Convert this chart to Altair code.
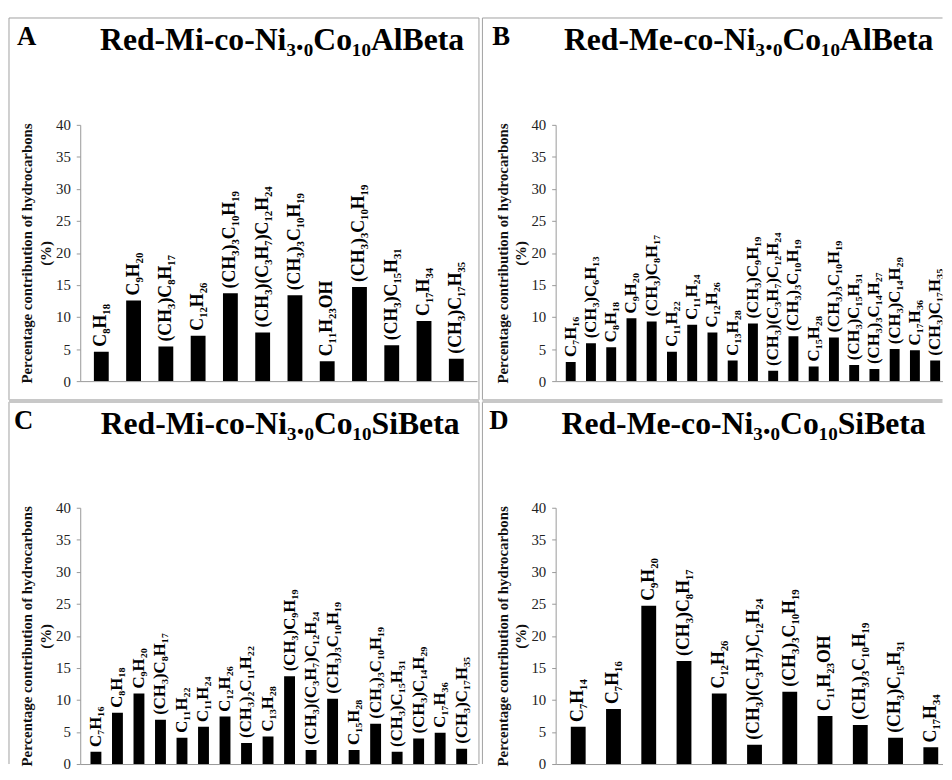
import altair as alt
import pandas as pd

# ---------------- data ----------------
labels_a = ["C₈H₁₈", "C₉H₂₀", "(CH₃)C₈H₁₇", "C₁₂H₂₆", "(CH₃)₃C₁₀H₁₉", "(CH₃)(C₃H₇)C₁₂H₂₄",
            "(CH₃)₃C₁₀H₁₉", "C₁₁H₂₃OH", "(CH₃)₃C₁₀H₁₉", "(CH₃)C₁₅H₃₁", "C₁₇H₃₄", "(CH₃)C₁₇H₃₅"]
values_a = [4.6, 12.6, 5.4, 7.1, 13.7, 7.6, 13.4, 3.1, 14.7, 5.6, 9.4, 3.5]

labels_b = ["C₇H₁₆", "(CH₃)C₆H₁₃", "C₈H₁₈", "C₉H₂₀", "(CH₃)C₈H₁₇", "C₁₁H₂₂", "C₁₁H₂₄", "C₁₂H₂₆",
            "C₁₃H₂₈", "(CH₃)C₉H₁₉", "(CH₃)(C₃H₇)C₁₂H₂₄", "(CH₃)₃C₁₀H₁₉", "C₁₅H₂₈", "(CH₃)₃C₁₀H₁₉",
            "(CH₃)C₁₅H₃₁", "(CH₃)₃C₁₄H₂₇", "(CH₃)C₁₄H₂₉", "C₁₇H₃₆", "(CH₃)C₁₇H₃₅"]
values_b = [3.0, 5.9, 5.3, 9.8, 9.3, 4.6, 8.8, 7.6, 3.2, 9.0, 1.6, 7.0, 2.3, 6.8, 2.5, 1.9, 5.0, 4.8, 3.2]

labels_c = ["C₇H₁₆", "C₈H₁₈", "C₉H₂₀", "(CH₃)C₈H₁₇", "C₁₁H₂₂", "C₁₁H₂₄", "C₁₂H₂₆", "(CH₃)₂C₁₁H₂₂",
            "C₁₃H₂₈", "(CH₃)C₉H₁₉", "(CH₃)(C₃H₇)C₁₂H₂₄", "(CH₃)₃C₁₀H₁₉", "C₁₅H₂₈", "(CH₃)₃C₁₀H₁₉",
            "(CH₃)C₁₅H₃₁", "(CH₃)C₁₄H₂₉", "C₁₇H₃₆", "(CH₃)C₁₇H₃₅"]
values_c = [1.9, 8.0, 11.0, 6.9, 4.1, 5.8, 7.4, 3.3, 4.3, 13.7, 2.2, 10.2, 2.2, 6.3, 1.9, 4.0, 4.9, 2.4]

labels_d = ["C₇H₁₄", "C₇H₁₆", "C₉H₂₀", "(CH₃)C₈H₁₇", "C₁₂H₂₆", "(CH₃)(C₃H₇)C₁₂H₂₄",
            "(CH₃)₃C₁₀H₁₉", "C₁₁H₂₃OH", "(CH₃)₃C₁₀H₁₉", "(CH₃)C₁₅H₃₁", "C₁₇H₃₄"]
values_d = [5.8, 8.6, 24.7, 16.1, 11.0, 3.0, 11.3, 7.5, 6.1, 4.1, 2.6]

titles = ["Red-Mi-co-Ni₃.₀Co₁₀AlBeta", "Red-Me-co-Ni₃.₀Co₁₀AlBeta",
          "Red-Mi-co-Ni₃.₀Co₁₀SiBeta", "Red-Me-co-Ni₃.₀Co₁₀SiBeta"]
letters = ["A", "B", "C", "D"]
y_ticks = [0, 5, 10, 15, 20, 25, 30, 35, 40]
y_title = ["Percentage contribution of hydrocarbons", "(%)"]

SERIF = "Liberation Serif"
BORDER = "#a0a0a0"
BAND = "#c8c8c8"
H = 259

X_AXIS = alt.Axis(labels=False, ticks=False, grid=False, title=None, domainColor="#999999")
Y_AXIS = alt.Axis(values=y_ticks, grid=False, title=y_title, labelOverlap=False,
                  domainColor="#999999", tickColor="#999999", tickSize=4,
                  labelFont=SERIF, labelFontSize=15, labelColor="#222222",
                  labelPadding=6,
                  titleFont=SERIF, titleFontSize=15, titleFontWeight="bold",
                  titleColor="#111111", titlePadding=2, titleLineHeight=19)


def panel(letter, title, labels, values, step, width, bar_size, label_size,
          title_x, letter_x, top_y, left_x, right_x=None, bottom_band=False):
    df = pd.DataFrame({"i": list(range(len(values))), "v": values, "lab": labels})
    base = alt.Chart(df)
    xs = alt.Scale(domain=[-0.5, -0.5 + width / step], nice=False, zero=False)
    ys = alt.Scale(domain=[0, 40], nice=False)
    bars = base.mark_bar(size=bar_size, color="black", orient="vertical", clip=True).encode(
        x=alt.X("i:Q", scale=xs, axis=X_AXIS),
        y=alt.Y("v:Q", scale=ys, axis=Y_AXIS),
    )
    texts = base.mark_text(angle=270, align="left", baseline="middle", dx=5, clip=True,
                           font=SERIF, fontWeight="bold", fontSize=label_size,
                           color="black").encode(
        x=alt.X("i:Q", scale=xs, axis=X_AXIS),
        y=alt.Y("v:Q", scale=ys, axis=Y_AXIS),
        text="lab:N")

    one = alt.Chart(pd.DataFrame({"k": [0]}))
    ttl = one.mark_text(font=SERIF, fontWeight="bold", fontSize=32, align="center",
                        baseline="alphabetic", color="black").encode(
        x=alt.value(title_x), y=alt.value(top_y + 32), text=alt.value(title))
    let = one.mark_text(font=SERIF, fontWeight="bold", fontSize=27, align="left",
                        baseline="alphabetic", color="black").encode(
        x=alt.value(letter_x), y=alt.value(top_y + 27.5), text=alt.value(letter))

    bottom = 278 if bottom_band else H
    rules = [
        one.mark_rule(color=BORDER, strokeWidth=1).encode(
            x=alt.value(left_x), y=alt.value(top_y), y2=alt.value(bottom)),
        one.mark_rule(color=BORDER if top_y < -107.5 else BAND,
                      strokeWidth=1 if top_y < -107.5 else 2).encode(
            x=alt.value(left_x), x2=alt.value(right_x if right_x is not None else width),
            y=alt.value(top_y)),
    ]
    if right_x is not None:
        rules.append(one.mark_rule(color=BORDER, strokeWidth=1).encode(
            x=alt.value(right_x), y=alt.value(top_y), y2=alt.value(bottom)))
    if bottom_band:
        rules.append(one.mark_rule(color=BAND, strokeWidth=2).encode(
            x=alt.value(left_x), x2=alt.value(right_x if right_x is not None else width),
            y=alt.value(278)))

    return alt.layer(bars, texts, ttl, let, *rules).properties(width=width, height=H)


pa = panel(letters[0], titles[0], labels_a, values_a, step=33.45, width=401, bar_size=15,
           label_size=18, title_x=204, letter_x=-64, top_y=-108, left_x=-72, right_x=403,
           bottom_band=True)
pb = panel(letters[1], titles[1], labels_b, values_b, step=21.0, width=391, bar_size=10,
           label_size=17, title_x=195, letter_x=-64, top_y=-108, left_x=-74,
           bottom_band=True)
pc = panel(letters[2], titles[2], labels_c, values_c, step=22.3, width=401, bar_size=11,
           label_size=17, title_x=202, letter_x=-67, top_y=-107, left_x=-72, right_x=403)
pd_ = panel(letters[3], titles[3], labels_d, values_d, step=36.57, width=391, bar_size=15,
            label_size=18, title_x=190, letter_x=-67, top_y=-107, left_x=-74)

chart = alt.vconcat(
    alt.hconcat(pa, pb, spacing=1.5),
    alt.hconcat(pc, pd_, spacing=1.5),
    spacing=0,
).properties(
    padding={"left": 0, "top": 5, "right": 0, "bottom": 0}
).configure(
    background="white", font=SERIF
).configure_axis(
    labelFont=SERIF, titleFont=SERIF
).configure_view(strokeWidth=0)

chart.save("out.html", embed_options={"renderer": "svg", "actions": False})
